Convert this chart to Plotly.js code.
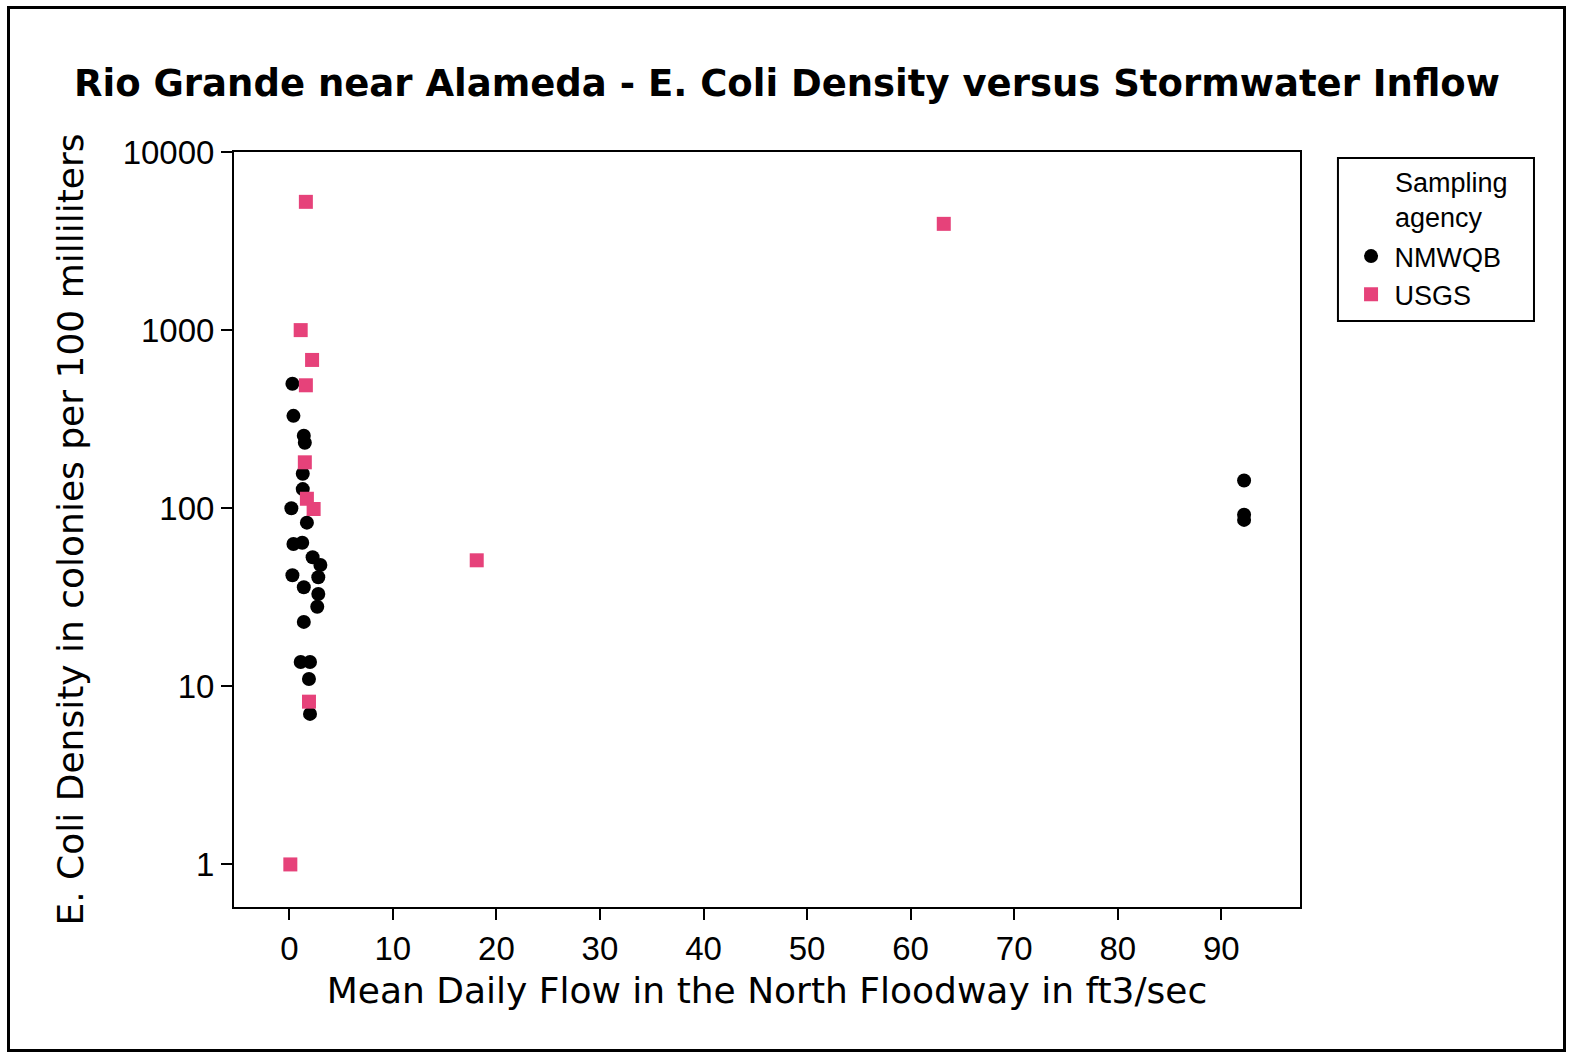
<!DOCTYPE html>
<html>
<head>
<meta charset="utf-8">
<script src="https://cdn.plot.ly/plotly-3.0.1.min.js"></script>
<style>
html,body{margin:0;padding:0;background:#fff;}
#chart{width:1574px;height:1053px;}
#frame{position:absolute;left:7px;top:6px;width:1553px;height:1040px;border:3px solid #000;pointer-events:none;}
</style>
</head>
<body>
<div id="chart"></div>
<div id="frame"></div>
<script>
// Data
const nmwqbFlow = [0.3, 0.4, 1.4, 1.5, 1.3, 1.3, 0.2, 1.7, 0.4, 1.25, 2.25, 3.0, 2.8, 0.3, 1.4, 2.8, 2.7, 1.4, 1.1, 2.0, 1.9, 2.0, 92.2, 92.2, 92.2];
const nmwqbEcoli = [500, 330, 255, 233, 156, 128, 100, 83, 63, 64, 53, 48, 41, 42, 36, 33, 28, 23, 13.7, 13.7, 11, 7.0, 143, 92, 86];
const usgsFlow = [1.6, 1.1, 2.2, 1.6, 1.5, 1.7, 2.35, 1.9, 0.1, 18.1, 63.2];
const usgsEcoli = [5250, 1000, 680, 490, 181, 113, 99, 8.2, 1, 51, 3950];
const xTicks = [0, 10, 20, 30, 40, 50, 60, 70, 80, 90];
const yTicks = [1, 10, 100, 1000, 10000];
const yTickText = ["1", "10", "100", "1000", "10000"];

const traces = [
  {x: nmwqbFlow, y: nmwqbEcoli, type: 'scatter', mode: 'markers', name: 'NMWQB',
   marker: {symbol: 'circle', size: 14, color: '#000000'}},
  {x: usgsFlow, y: usgsEcoli, type: 'scatter', mode: 'markers', name: 'USGS',
   marker: {symbol: 'square', size: 14, color: '#E6427A'}}
];

const tickFont = {family: 'Liberation Sans, Arial, sans-serif', size: 33, color: '#000'};
const titleFont = {family: 'DejaVu Sans, sans-serif', size: 36, color: '#000'};

const layout = {
  width: 1574, height: 1053,
  paper_bgcolor: '#fff', plot_bgcolor: '#fff',
  margin: {l: 234, r: 274, t: 152, b: 146},
  title: {text: 'Rio Grande near Alameda - E. Coli Density versus Stormwater Inflow',
          font: {family: 'DejaVu Sans, sans-serif', size: 37, color: '#000', weight: 'bold'},
          x: 0.5, xref: 'container', xanchor: 'center', y: 0.921, yref: 'container', yanchor: 'middle'},
  xaxis: {range: [-5.34, 97.6], tickvals: xTicks, ticks: 'outside', ticklen: 11, tickwidth: 2, tickcolor: '#000',
          showline: true, linewidth: 2, linecolor: '#000', mirror: true, showgrid: false, zeroline: false,
          tickfont: tickFont,
          title: {text: 'Mean Daily Flow in the North Floodway in ft3/sec', font: titleFont, standoff: 12}},
  yaxis: {type: 'log', range: [-0.239, 4], tickvals: yTicks, ticktext: yTickText, ticks: 'outside', ticklen: 11, tickwidth: 2, tickcolor: '#000',
          showline: true, linewidth: 2, linecolor: '#000', mirror: true, showgrid: false, zeroline: false,
          tickfont: tickFont,
          title: {text: 'E. Coli Density in colonies per 100 milliliters', font: titleFont, standoff: 28}},
  showlegend: true,
  legend: {x: 1.0446, xanchor: 'left', y: 0.894, yanchor: 'top', bgcolor: 'rgba(0,0,0,0)', borderwidth: 0,
           itemwidth: 37,
           font: {family: 'Liberation Sans, Arial, sans-serif', size: 27, color: '#000'}},
  annotations: [{text: 'Sampling<br>agency', xref: 'paper', yref: 'paper', x: 1.087, y: 0.9358,
                 xanchor: 'left', yanchor: 'middle', align: 'left', showarrow: false,
                 font: {family: 'Liberation Sans, Arial, sans-serif', size: 27, color: '#000'}}],
  shapes: [{type: 'rect', xref: 'paper', yref: 'paper', x0: 1.0356, x1: 1.2195, y0: 0.776, y1: 0.992,
            line: {color: '#000', width: 2}, fillcolor: 'rgba(0,0,0,0)'}]
};

Plotly.newPlot('chart', traces, layout, {displayModeBar: false, staticPlot: true});
</script>
</body>
</html>
